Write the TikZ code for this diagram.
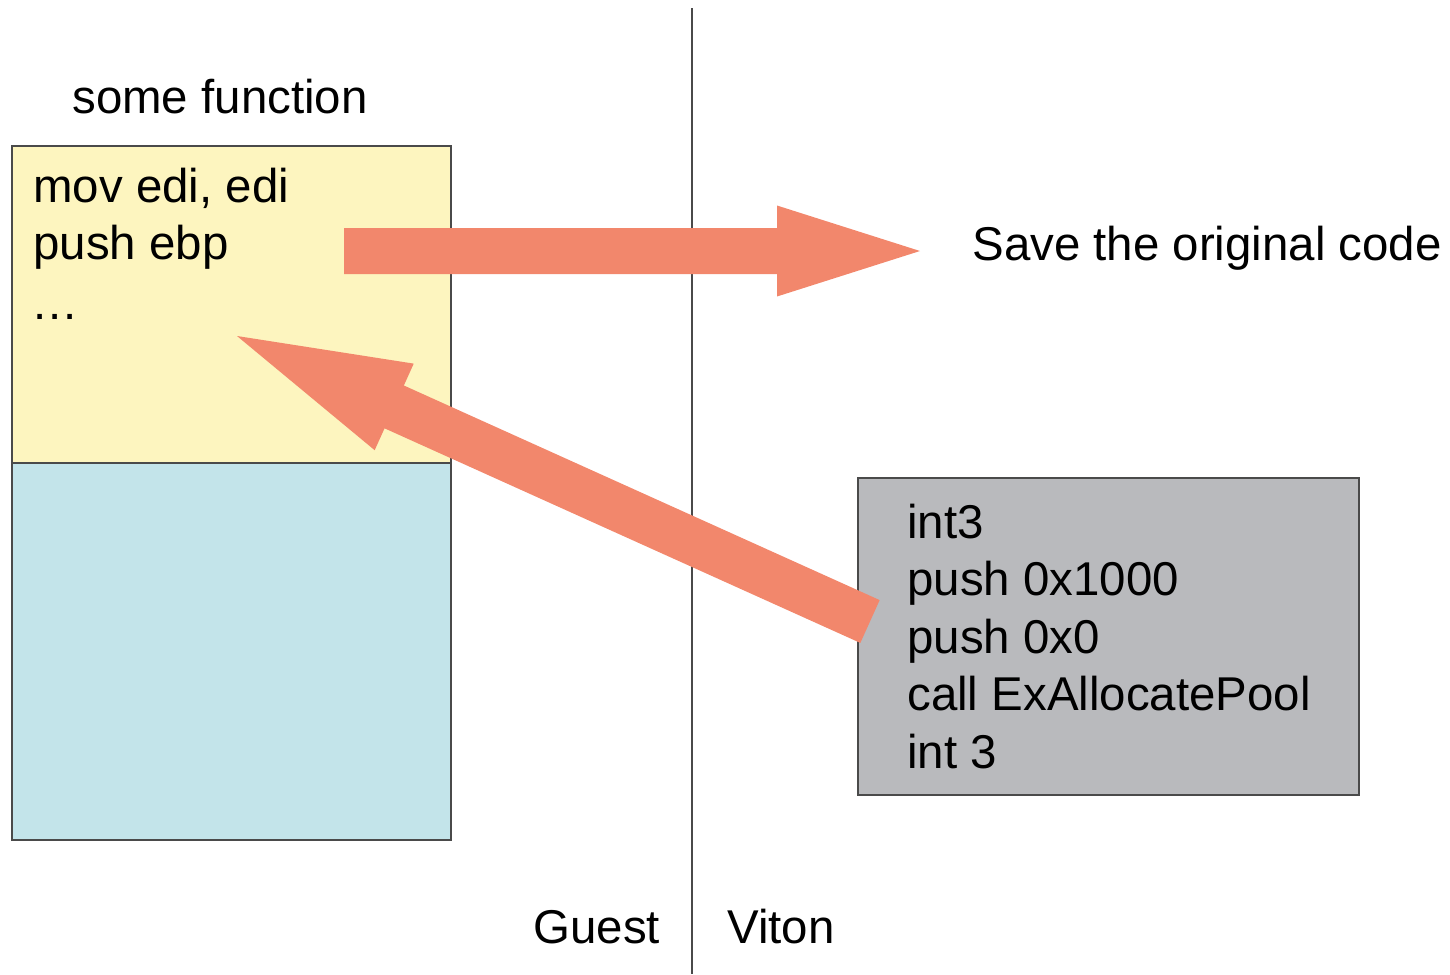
\documentclass[tikz,border=0pt]{standalone}
\usepackage{fontspec}
\setmainfont{Liberation Sans}
\usetikzlibrary{calc}

\definecolor{funcyellow}{HTML}{FDF5BF}
\definecolor{funcblue}{HTML}{C3E4EA}
\definecolor{hookgray}{HTML}{B9BABD}
\definecolor{arrowred}{HTML}{F2876C}
\definecolor{edgegray}{HTML}{4A4A4A}

\begin{document}
\begin{tikzpicture}[x = 0.02cm, y = -0.02cm,
    every node/.style = { font = \fontsize{27}{33}\selectfont, inner sep = 0, anchor = base west },
    codebox/.style = { draw = edgegray, line width = 0.8pt },
    bigarrow/.style = { fill = arrowred }]
    \useasboundingbox (0,0) rectangle (1450,974);

    % boxes
    \draw[codebox, fill = funcyellow] (12,146) rectangle (451,463);
    \draw[codebox, fill = funcblue] (12,463) rectangle (451,840);
    \draw[codebox, fill = hookgray] (858,478) rectangle (1359,795);

    % guest / viton split
    \coordinate (splittop) at (692,8);
    \coordinate (splitbot) at (692,974);
    \draw[edgegray, line width = 0.8pt] (splittop) -- (splitbot);

    % save arrow
    \coordinate (savetail) at (344,251);
    \coordinate (savetip) at (920,251);
    \coordinate (savehead) at ($(savetip)!2.86cm!(savetail)$);
    \fill[bigarrow] ($(savetail)!0.46cm!90:(savetip)$) -- ($(savehead)!0.46cm!90:(savetip)$)
      -- ($(savehead)!0.91cm!90:(savetip)$) -- (savetip)
      -- ($(savehead)!0.91cm!-90:(savetip)$) -- ($(savehead)!0.46cm!-90:(savetip)$)
      -- ($(savetail)!0.46cm!-90:(savetip)$) -- cycle;

    % jump back arrow
    \coordinate (backtail) at (870,621.5);
    \coordinate (backtip) at (237,336);
    \coordinate (backhead) at ($(backtip)!3.45cm!(backtail)$);
    \fill[bigarrow] ($(backtail)!0.47cm!90:(backtip)$) -- ($(backhead)!0.47cm!90:(backtip)$)
      -- ($(backhead)!0.95cm!90:(backtip)$) -- (backtip)
      -- ($(backhead)!0.95cm!-90:(backtip)$) -- ($(backhead)!0.47cm!-90:(backtip)$)
      -- ($(backtail)!0.47cm!-90:(backtip)$) -- cycle;

    % texts
    \node (func) at (72,113) {some function};
    \node (orig0) at (33,202) {mov edi, edi};
    \node (orig1) at (33,259.5) {push ebp};
    \node (orig2) at (33,319) {.\hspace{1.2pt}.\hspace{1.2pt}.};
    \node (hook0) at (907,538) {int3};
    \node (hook1) at (907,595.5) {push 0x1000};
    \node (hook2) at (907,653) {push 0x0};
    \node (hook3) at (907,710.5) {call ExAllocatePool};
    \node (hook4) at (907,768) {int 3};
    \node (save) at (972,260) {Save the original code};
    \node (guest) at (533,943) {Guest};
    \node (viton) at (727,943) {Viton};
\end{tikzpicture}
\end{document}
